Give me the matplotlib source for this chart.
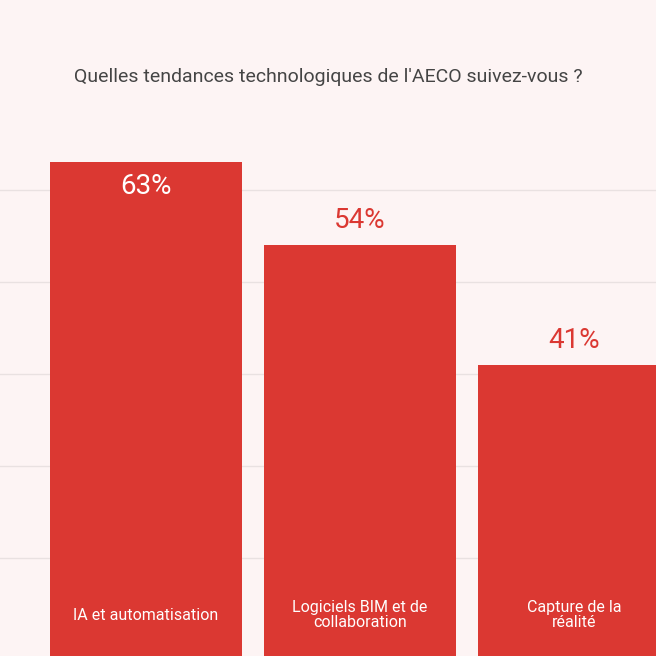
import matplotlib
matplotlib.use('Agg')
import matplotlib.pyplot as plt

plt.rcParams['font.family'] = 'Roboto'

categories = ['IA et automatisation', 'Logiciels BIM et de\ncollaboration', 'Capture de la\nréalité']
values = [63, 54, 41]
grid_values = [20, 30, 40, 50, 60]
title = "Quelles tendances technologiques de l'AECO suivez-vous ?"

bg = '#fdf4f4'
red = '#db3832'

fig = plt.figure(figsize=(6.56, 6.56), dpi=100, facecolor=bg)
ax = fig.add_axes([0, 0, 1, 1], facecolor=bg)
ax.set_xlim(-0.682, 2.383)
ax.set_ylim(9.35, 80.6)

for g in grid_values:
    ax.axhline(g, color='#e9e1e1', lw=1, zorder=0)

x = range(len(values))
ax.bar(x, [v - 0 for v in values], width=0.897, color=red, zorder=2)

for i, v in enumerate(values):
    if i == 0:
        ax.text(i, v - 1.2, f'{v}%', ha='center', va='top', color='white', fontsize=20)
    else:
        ax.text(i, v + 1.2, f'{v}%', ha='center', va='bottom', color=red, fontsize=20)
    ax.text(i, 13.8, categories[i], ha='center', va='center', color='white',
            fontsize=11.5, linespacing=1.0)

fig.text(0.5, 1 - 77 / 656, title, ha='center', va='center', color='#444444', fontsize=14)

ax.axis('off')
fig.savefig('out.png', dpi=100, facecolor=bg)
